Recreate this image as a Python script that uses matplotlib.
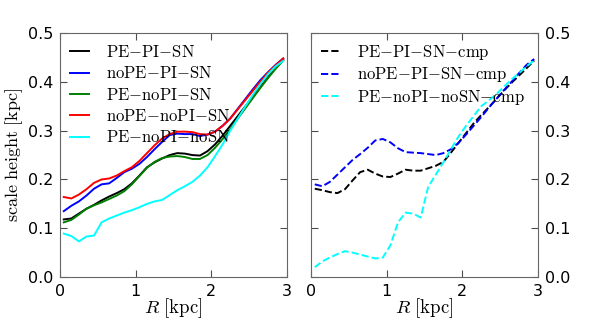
import numpy as np
import matplotlib
matplotlib.use("Agg")
import matplotlib.pyplot as plt

plt.rcParams['mathtext.fontset'] = 'cm'
plt.rcParams['font.family'] = 'DejaVu Sans'

R = np.arange(0.05, 3.0, 0.1)

# left panel
pe_pi_sn = [0.118, 0.120, 0.130, 0.140, 0.148, 0.157, 0.165, 0.172, 0.180, 0.192,
            0.208, 0.225, 0.235, 0.243, 0.250, 0.254, 0.253, 0.250, 0.249, 0.258,
            0.272, 0.290, 0.310, 0.330, 0.350, 0.370, 0.390, 0.410, 0.428, 0.445]
nope_pi_sn = [0.135, 0.146, 0.155, 0.167, 0.181, 0.190, 0.192, 0.203, 0.215, 0.222,
              0.232, 0.246, 0.262, 0.277, 0.291, 0.294, 0.293, 0.293, 0.289, 0.292,
              0.298, 0.310, 0.325, 0.345, 0.365, 0.385, 0.404, 0.420, 0.435, 0.448]
pe_nopi_sn = [0.112, 0.117, 0.128, 0.140, 0.147, 0.153, 0.160, 0.167, 0.176, 0.190,
              0.207, 0.224, 0.236, 0.244, 0.247, 0.248, 0.246, 0.242, 0.242, 0.250,
              0.265, 0.283, 0.303, 0.325, 0.346, 0.367, 0.388, 0.408, 0.427, 0.444]
nope_nopi_sn = [0.164, 0.161, 0.169, 0.180, 0.193, 0.200, 0.202, 0.208, 0.217, 0.225,
                0.238, 0.254, 0.270, 0.284, 0.293, 0.298, 0.298, 0.297, 0.293, 0.292,
                0.298, 0.310, 0.325, 0.344, 0.363, 0.382, 0.401, 0.419, 0.434, 0.448]
pe_nopi_nosn = [0.089, 0.084, 0.073, 0.083, 0.085, 0.112, 0.120, 0.126, 0.132, 0.137,
                0.143, 0.150, 0.155, 0.158, 0.168, 0.178, 0.186, 0.195, 0.208, 0.225,
                0.248, 0.272, 0.300, 0.325, 0.350, 0.374, 0.396, 0.416, 0.432, 0.443]

# right panel
pe_pi_sn_cmp = [0.181, 0.178, 0.174, 0.172, 0.180, 0.198, 0.215, 0.220, 0.212, 0.206,
                0.205, 0.212, 0.220, 0.218, 0.218, 0.223, 0.228, 0.236, 0.255, 0.275,
                0.295, 0.315, 0.332, 0.348, 0.365, 0.382, 0.398, 0.413, 0.428, 0.444]
nope_pi_sn_cmp = [0.190, 0.186, 0.195, 0.210, 0.225, 0.240, 0.252, 0.265, 0.280, 0.283,
                  0.276, 0.264, 0.256, 0.255, 0.254, 0.252, 0.250, 0.254, 0.262, 0.275,
                  0.292, 0.310, 0.328, 0.347, 0.365, 0.383, 0.400, 0.418, 0.435, 0.447]
pe_nopi_nosn_cmp = [0.020, 0.032, 0.040, 0.047, 0.053, 0.050, 0.046, 0.042, 0.038, 0.040,
                    0.065, 0.112, 0.132, 0.130, 0.122, 0.185, 0.210, 0.235, 0.262, 0.288,
                    0.310, 0.330, 0.350, 0.362, 0.375, 0.390, 0.405, 0.418, 0.432, 0.444]

left_series = [(pe_pi_sn, 'k', r'$\mathrm{PE{-}PI{-}SN}$'),
               (nope_pi_sn, 'b', r'$\mathrm{noPE{-}PI{-}SN}$'),
               (pe_nopi_sn, 'g', r'$\mathrm{PE{-}noPI{-}SN}$'),
               (nope_nopi_sn, 'r', r'$\mathrm{noPE{-}noPI{-}SN}$'),
               (pe_nopi_nosn, 'cyan', r'$\mathrm{PE{-}noPI{-}noSN}$')]
right_series = [(pe_pi_sn_cmp, 'k', r'$\mathrm{PE{-}PI{-}SN{-}cmp}$'),
                (nope_pi_sn_cmp, 'b', r'$\mathrm{noPE{-}PI{-}SN{-}cmp}$'),
                (pe_nopi_nosn_cmp, 'cyan', r'$\mathrm{PE{-}noPI{-}noSN{-}cmp}$')]

fig = plt.figure(figsize=(5.98, 3.3), dpi=100)
ax1 = fig.add_axes([0.1003, 0.1606, 0.3796, 0.739])
ax2 = fig.add_axes([0.520, 0.1606, 0.3796, 0.739])

for y, c, lab in left_series:
    ax1.plot(R, y, color=c, lw=1.4, label=lab)
for y, c, lab in right_series:
    ax2.plot(R, y, color=c, lw=1.4, ls='--', label=lab)

for ax in (ax1, ax2):
    ax.set_xlim(0, 3)
    ax.set_ylim(0, 0.5)
    ax.set_xticks([0, 1, 2, 3])
    ax.set_yticks([0.0, 0.1, 0.2, 0.3, 0.4, 0.5])
    ax.tick_params(direction='in', top=True, right=True, left=True, labelsize=11.5,
                   length=5, color='0.3', pad=5)
    ax.set_xlabel(r'$R\ [\mathrm{kpc}]$', fontsize=13.5, labelpad=-2)
    for s in ax.spines.values():
        s.set_color('0.4')
    ax.legend(loc='upper left', frameon=False, fontsize=12, handlelength=1.15,
              handletextpad=1.0, labelspacing=0.2, borderaxespad=0.2,
              borderpad=0.4)

ax1.set_yticklabels(['0.0', '0.1', '0.2', '0.3', '0.4', '0.5'])
ax1.set_ylabel(r'$\mathrm{scale\ height\ [kpc]}$', fontsize=13, labelpad=2)
ax2.yaxis.tick_right()
ax2.tick_params(left=True, right=True, direction='in')
ax2.set_yticklabels(['0.0', '0.1', '0.2', '0.3', '0.4', '0.5'])

fig.savefig('out.png', dpi=100, facecolor='white')
